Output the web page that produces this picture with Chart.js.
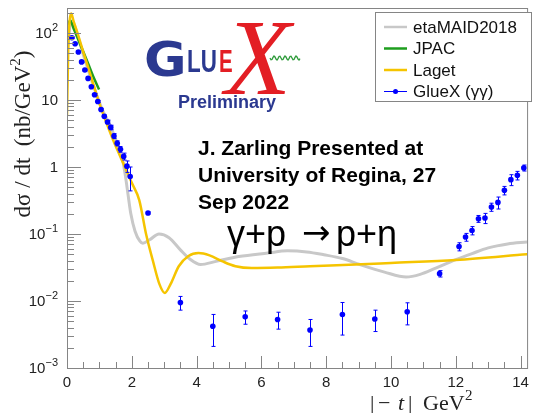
<!DOCTYPE html>
<html>
<head>
<meta charset="utf-8">
<script src="https://cdn.jsdelivr.net/npm/chart.js@4.4.0/dist/chart.umd.min.js"></script>
<style>
html, body { margin: 0; padding: 0; background: #fff; }
</style>
</head>
<body>
<canvas id="c" width="535" height="413"></canvas>
<script>
// values
const xTicks = [0, 2, 4, 6, 8, 10, 12, 14];
const yTicks = [0.001, 0.01, 0.1, 1, 10, 100];

const maidT = [0.02, 0.1, 0.2, 0.3, 0.5, 0.7, 0.9, 1.1, 1.32, 1.5, 1.7, 1.8, 1.88, 1.97, 2.1, 2.25, 2.34, 2.55, 2.84, 3.15, 3.5, 3.8, 4.12, 4.6, 5.3, 6.2, 6.8, 7.4, 7.93, 8.5, 9.04, 9.8, 10.47, 10.9, 11.38, 11.98, 12.5, 13.0, 13.6, 14.2];
const maidY = [60, 130, 140, 100, 48, 24, 12.5, 7, 4.3, 2.6, 1.4, 0.75, 0.4, 0.2, 0.11, 0.078, 0.073, 0.082, 0.1, 0.088, 0.058, 0.042, 0.035, 0.039, 0.046, 0.052, 0.056, 0.054, 0.049, 0.043, 0.035, 0.027, 0.0228, 0.025, 0.031, 0.041, 0.051, 0.062, 0.071, 0.076];

const jpacT = [0.0, 0.04, 0.1, 0.2, 0.35, 0.5, 0.65, 0.8, 0.99];
const jpacY = [75, 125, 155, 118, 79, 53, 35, 23, 14.3];

const lagetT = [0.0, 0.04, 0.08, 0.13, 0.2, 0.3, 0.41, 0.55, 0.71, 0.85, 1.02, 1.2, 1.42, 1.6, 1.8, 2.0, 2.23, 2.44, 2.65, 2.85, 3.02, 3.2, 3.45, 3.75, 4.06, 4.4, 4.8, 5.2, 5.7, 6.5, 7.5, 8.9, 10, 12, 14.2];
const lagetY = [6, 60, 150, 195, 152, 108, 73, 44, 25, 15, 8.3, 4.8, 2.55, 1.6, 0.97, 0.58, 0.32, 0.10, 0.04, 0.018, 0.0132, 0.018, 0.033, 0.047, 0.052, 0.048, 0.039, 0.033, 0.031, 0.0315, 0.033, 0.035, 0.037, 0.041, 0.050];

const gluexT = [0.15, 0.25, 0.35, 0.45, 0.55, 0.65, 0.75, 0.85, 0.95, 1.05, 1.15, 1.25, 1.35, 1.45, 1.55, 1.65, 1.75, 1.85, 1.95, 2.5, 3.5, 4.5, 5.5, 6.5, 7.5, 8.5, 9.5, 10.5, 11.5, 12.1, 12.3, 12.5, 12.7, 12.9, 13.1, 13.3, 13.5, 13.7, 13.9, 14.1];
const gluexY = [85, 69, 52, 37, 28, 21, 15.8, 12, 9.5, 7.2, 5.7, 4.7, 3.9, 2.9, 2.26, 1.84, 1.44, 1.03, 0.72, 0.206, 0.0095, 0.0042, 0.0058, 0.0053, 0.0037, 0.0063, 0.0054, 0.0069, 0.0256, 0.065, 0.090, 0.113, 0.169, 0.173, 0.253, 0.296, 0.448, 0.647, 0.75, 0.97];
const gluexErr = [2, 1.5, 1.2, 0.9, 0.7, 0.6, 0.5, 0.4, 0.35, 0.3, 0.3, 0.3, 0.3, 0.25, 0.2, 0.18, 0.17, 0.2, 0.28, 0.008, 0.0022, 0.0021, 0.0013, 0.0015, 0.0016, 0.0032, 0.0019, 0.0025, 0.0028, 0.009, 0.012, 0.016, 0.02, 0.03, 0.035, 0.06, 0.065, 0.12, 0.11, 0.1];

const seriesNames = ['etaMAID2018', 'JPAC', 'Laget', 'GlueX (\u03b3\u03b3)'];
const seriesColors = ['#c8c8c8', '#1e9e1e', '#f5c400', '#0000ff'];

function pts(xs, ys) {
  return xs.map((x, i) => ({ x: x, y: ys[i] }));
}

const sans = '"Liberation Sans", Arial, sans-serif';
const serif = '"Liberation Serif", "Times New Roman", serif';

// base text followed by a raised exponent
function textSup(ctx, base, sup, x, y, size, supSize, align) {
  ctx.font = size + 'px ' + sans;
  const wb = ctx.measureText(base).width;
  ctx.font = supSize + 'px ' + sans;
  const ws = sup ? ctx.measureText(sup).width : 0;
  let left = align === 'right' ? x - wb - ws : x;
  ctx.textAlign = 'left';
  ctx.font = size + 'px ' + sans;
  ctx.fillText(base, left, y);
  if (sup) {
    ctx.font = supSize + 'px ' + sans;
    ctx.fillText(sup, left + wb, y - size * 0.42);
  }
}

const decor = {
  id: 'decor',
  beforeDraw(chart) {
    const ctx = chart.ctx;
    ctx.save();
    ctx.fillStyle = '#fff';
    ctx.fillRect(0, 0, chart.width, chart.height);
    ctx.restore();
  },
  afterDatasetsDraw(chart) {
    // error bars on the GlueX points
    const ctx = chart.ctx;
    const xs = chart.scales.x, ys = chart.scales.y;
    ctx.save();
    ctx.strokeStyle = seriesColors[3];
    ctx.lineWidth = 1;
    for (let i = 0; i < gluexT.length; i++) {
      const px = Math.round(xs.getPixelForValue(gluexT[i])) + 0.5;
      const lo = Math.max(gluexY[i] - gluexErr[i], 0.0011);
      const y1 = ys.getPixelForValue(lo);
      const y2 = ys.getPixelForValue(gluexY[i] + gluexErr[i]);
      ctx.beginPath();
      ctx.moveTo(px, y1); ctx.lineTo(px, y2);
      ctx.moveTo(px - 2, y1); ctx.lineTo(px + 2, y1);
      ctx.moveTo(px - 2, y2); ctx.lineTo(px + 2, y2);
      ctx.stroke();
    }
    ctx.restore();
  },
  afterDraw(chart) {
    const ctx = chart.ctx;
    const a = chart.chartArea;
    const xs = chart.scales.x, ys = chart.scales.y;
    ctx.save();

    // frame and inward tick marks
    ctx.strokeStyle = '#858585';
    ctx.lineWidth = 1;
    ctx.strokeRect(a.left + 0.5, a.top + 0.5, a.right - a.left, a.bottom - a.top);
    ctx.beginPath();
    for (let v = 0; v <= 14.2; v += 0.5) {
      const px = Math.round(xs.getPixelForValue(v)) + 0.5;
      const len = (v % 2 === 0) ? 12 : 6;
      ctx.moveTo(px, a.bottom); ctx.lineTo(px, a.bottom - len);
    }
    for (let k = -3; k <= 2; k++) {
      for (let m = 1; m <= 9; m++) {
        const v = m * Math.pow(10, k);
        if (v > ys.max) break;
        const py = Math.round(ys.getPixelForValue(v)) + 0.5;
        const len = m === 1 ? 14 : 7;
        ctx.moveTo(a.left, py); ctx.lineTo(a.left + len, py);
      }
    }
    ctx.stroke();

    // y tick labels
    ctx.fillStyle = '#222';
    ctx.textBaseline = 'middle';
    yTicks.forEach(v => {
      const py = ys.getPixelForValue(v) + 1;
      const e = Math.round(Math.log10(v));
      if (e === 0) textSup(ctx, '1', '', 58, py, 15, 11, 'right');
      else if (e === 1) textSup(ctx, '10', '', 58, py, 15, 11, 'right');
      else textSup(ctx, '10', e < 0 ? '\u2212' + (-e) : String(e), 58, py, 15, 11, 'right');
    });

    // y title
    ctx.textBaseline = 'alphabetic';
    ctx.save();
    ctx.translate(30, 134);
    ctx.rotate(-Math.PI / 2);
    ctx.font = '23px ' + serif;
    const t1 = 'd\u03c3 / dt  (nb/GeV';
    const w1 = ctx.measureText(t1).width;
    ctx.font = '15px ' + serif;
    const w2 = ctx.measureText('2').width;
    ctx.font = '23px ' + serif;
    const w3 = ctx.measureText(')').width;
    const sx = -(w1 + w2 + w3) / 2;
    ctx.textAlign = 'left';
    ctx.fillText(t1, sx, 0);
    ctx.font = '15px ' + serif;
    ctx.fillText('2', sx + w1, -10);
    ctx.font = '23px ' + serif;
    ctx.fillText(')', sx + w1 + w2, 0);
    ctx.restore();

    // x title
    ctx.textAlign = 'left';
    const xb = 410;
    ctx.font = '22px ' + serif;
    ctx.fillText('|', 370, xb);
    ctx.fillText('\u2212', 378, xb);
    ctx.font = 'italic 22px ' + serif;
    ctx.fillText('t', 398, xb);
    ctx.font = '22px ' + serif;
    ctx.fillText('|', 408, xb);
    ctx.fillText('GeV', 423, xb);
    ctx.font = '15px ' + serif;
    ctx.fillText('2', 465, xb - 10);

    // legend box
    ctx.strokeStyle = '#858585';
    ctx.fillStyle = '#fff';
    ctx.fillRect(375.5, 12.5, 156, 89);
    ctx.strokeRect(375.5, 12.5, 156, 89);
    const rows = [27, 48.5, 70, 91.5];
    ctx.textBaseline = 'middle';
    ctx.font = '17px ' + sans;
    seriesNames.forEach((name, i) => {
      const y = rows[i];
      ctx.strokeStyle = seriesColors[i];
      ctx.lineWidth = i === 3 ? 1 : 2.5;
      ctx.beginPath();
      ctx.moveTo(384, y); ctx.lineTo(407, y);
      ctx.stroke();
      if (i === 3) {
        ctx.fillStyle = seriesColors[3];
        ctx.beginPath();
        ctx.arc(395.5, y, 2.5, 0, Math.PI * 2);
        ctx.fill();
      }
      ctx.fillStyle = '#111';
      ctx.fillText(name, 413, y + 1);
    });

    // GlueX logo
    ctx.textBaseline = 'alphabetic';
    ctx.fillStyle = '#2b3990';
    ctx.save();
    ctx.translate(144, 76);
    ctx.scale(1.08, 1);
    ctx.font = 'bold 48px "DejaVu Sans", sans-serif';
    ctx.fillText('G', 0, 0);
    ctx.restore();
    ctx.save();
    ctx.translate(187, 72);
    ctx.scale(0.7, 1);
    ctx.font = 'bold 32px ' + sans;
    ctx.fillText('LU', 0, 0);
    ctx.restore();
    ctx.save();
    ctx.translate(219, 72);
    ctx.scale(0.64, 1);
    ctx.font = 'bold 32px ' + sans;
    ctx.fillStyle = '#e31e24';
    ctx.fillText('E', 0, 0);
    ctx.restore();
    ctx.fillStyle = '#e31e24';
    ctx.font = 'italic 108px ' + serif;
    ctx.fillText('X', 225, 94);
    ctx.strokeStyle = '#2e9b3a';
    ctx.lineWidth = 1.3;
    ctx.beginPath();
    for (let i = 0; i <= 30; i++) {
      const wx = 270 + i;
      const wy = 58 + 2 * Math.sin(i / 5.5 * Math.PI * 2);
      if (i === 0) ctx.moveTo(wx, wy); else ctx.lineTo(wx, wy);
    }
    ctx.stroke();
    ctx.fillStyle = '#2b3990';
    ctx.font = 'bold 18px ' + sans;
    ctx.fillText('Preliminary', 178, 108);

    // annotations
    ctx.fillStyle = '#000';
    ctx.font = 'bold 21px ' + sans;
    ctx.fillText('J. Zarling Presented at', 198, 155);
    ctx.fillText('University of Regina, 27', 198, 182);
    ctx.fillText('Sep 2022', 198, 209);
    ctx.font = '36px ' + sans;
    ctx.fillText('\u03b3+p', 227, 246);
    ctx.fillText('p+\u03b7', 336, 246);
    ctx.font = '34px "DejaVu Sans", sans-serif';
    ctx.fillText('\u2192', 302, 244);

    ctx.restore();
  }
};

new Chart(document.getElementById('c'), {
  type: 'line',
  data: {
    datasets: [
      {
        label: seriesNames[3], data: pts(gluexT, gluexY), showLine: false,
        pointRadius: 2.8, pointBackgroundColor: seriesColors[3], pointBorderWidth: 0,
        borderColor: seriesColors[3], order: 0
      },
      {
        label: seriesNames[2], data: pts(lagetT, lagetY), borderColor: seriesColors[2],
        borderWidth: 2.5, pointRadius: 0, cubicInterpolationMode: 'monotone', order: 1
      },
      {
        label: seriesNames[1], data: pts(jpacT, jpacY), borderColor: seriesColors[1],
        borderWidth: 2.5, pointRadius: 0, cubicInterpolationMode: 'monotone', order: 2
      },
      {
        label: seriesNames[0], data: pts(maidT, maidY), borderColor: seriesColors[0],
        borderWidth: 3, pointRadius: 0, cubicInterpolationMode: 'monotone', order: 3
      }
    ]
  },
  options: {
    responsive: false,
    animation: false,
    layout: { padding: { top: 8, right: 3, left: 0, bottom: 0 } },
    plugins: { legend: { display: false }, tooltip: { enabled: false } },
    scales: {
      x: {
        type: 'linear', min: 0, max: 14.2,
        grid: { display: false, drawTicks: false },
        border: { display: false },
        afterBuildTicks: s => { s.ticks = xTicks.map(v => ({ value: v })); },
        afterFit: s => { s.height = 45; },
        ticks: { padding: 6, color: '#222', font: { family: 'Liberation Sans', size: 15 }, maxRotation: 0 }
      },
      y: {
        type: 'logarithmic', min: 0.001, max: 236,
        grid: { display: false, drawTicks: false },
        border: { display: false },
        afterBuildTicks: s => { s.ticks = yTicks.map(v => ({ value: v })); },
        afterFit: s => { s.width = 67; },
        ticks: { display: false }
      }
    }
  },
  plugins: [decor]
});
</script>
</body>
</html>
